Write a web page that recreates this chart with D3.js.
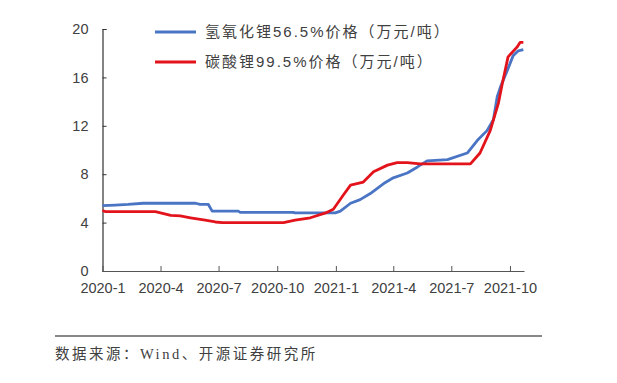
<!DOCTYPE html>
<html>
<head>
<meta charset="utf-8">
<script src="https://cdn.jsdelivr.net/npm/d3@7"></script>
<style>
  body { margin: 0; background: #fff; }
  .axis text { font-family: "Liberation Sans", Arial, sans-serif; font-size: 14.5px; fill: #404040; }
  .cn { font-family: "Liberation Serif", "Noto Sans CJK SC", serif; fill: #404040; }
  .lg { font-family: "Liberation Sans", "Noto Sans CJK SC", sans-serif; fill: #404040; }
</style>
</head>
<body>
<svg id="chart" width="617" height="383"></svg>
<script>
// series: LiOH 56.5% and Li2CO3 99.5% price (10k CNY / t)
var seriesNames = ["氢氧化锂56.5%价格（万元/吨）", "碳酸锂99.5%价格（万元/吨）"];
var seriesColors = ["#4a74c4", "#e3131b"];

var lohDates = ["2020-01-01","2020-01-21","2020-02-10","2020-03-05","2020-05-26","2020-06-02","2020-06-15","2020-06-21",
    "2020-08-01","2020-08-04","2020-10-26","2020-10-29","2020-12-31","2021-01-08","2021-01-24","2021-02-08",
    "2021-02-24","2021-03-19","2021-04-01","2021-04-23","2021-05-09","2021-05-24","2021-06-25","2021-07-26",
    "2021-08-11","2021-08-26","2021-09-05","2021-09-11","2021-09-16","2021-09-27","2021-10-06","2021-10-14","2021-10-22"];
var lohValues = [5.4,5.45,5.5,5.6,5.6,5.5,5.5,4.95,
    4.95,4.85,4.85,4.8,4.8,4.95,5.6,5.9,
    6.4,7.3,7.7,8.1,8.6,9.1,9.2,9.75,
    10.8,11.6,12.5,14.4,15.2,16.6,17.8,18.2,18.3];

var lcDates = ["2020-01-01","2020-01-06","2020-03-24","2020-04-17","2020-05-02","2020-05-18","2020-06-10","2020-06-26",
    "2020-07-07","2020-10-11","2020-10-29","2020-11-22","2020-12-16","2020-12-28","2021-01-13","2021-01-24",
    "2021-02-13","2021-03-01","2021-03-23","2021-04-07","2021-04-23","2021-05-13","2021-07-31","2021-08-15",
    "2021-08-31","2021-09-13","2021-09-19","2021-09-28","2021-10-12","2021-10-17","2021-10-22"];
var lcValues = [5.0,4.9,4.9,4.6,4.55,4.4,4.2,4.05,
    4.0,4.0,4.2,4.4,4.8,5.1,6.3,7.1,
    7.35,8.2,8.75,8.95,8.95,8.85,8.85,9.75,
    11.6,13.9,15.5,17.7,18.5,18.9,18.9];

var xTickDates = ["2020-01-01","2020-04-01","2020-07-01","2020-10-01","2021-01-01","2021-04-01","2021-07-01","2021-10-01"];
var xTickLabels = ["2020-1","2020-4","2020-7","2020-10","2021-1","2021-4","2021-7","2021-10"];
var yTicks = [0, 4, 8, 12, 16, 20];
var sourceText = "数据来源：Wind、开源证券研究所";

var parse = d3.timeParse("%Y-%m-%d");
var svg = d3.select("#chart");

var x = d3.scaleTime()
    .domain([parse("2020-01-01"), parse("2021-10-23")])
    .range([102.5, 524]);
var y = d3.scaleLinear()
    .domain([0, 20])
    .range([271, 29]);

var g = svg.append("g");

// y axis, ticks inside
var yAxis = g.append("g")
    .attr("class", "axis")
    .attr("transform", "translate(" + x.range()[0] + ",0)")
    .call(d3.axisLeft(y).tickValues(yTicks).tickSizeInner(-4).tickSizeOuter(-4).tickPadding(14));
yAxis.select(".domain").attr("stroke", "#333").attr("stroke-width", 1.2);
yAxis.selectAll(".tick line").attr("stroke", "#333");

// x axis
var xAxis = g.append("g")
    .attr("class", "axis")
    .attr("transform", "translate(0," + y(0) + ")")
    .call(d3.axisBottom(x)
        .tickValues(xTickDates.map(parse))
        .tickFormat(function(d, i) { return xTickLabels[i]; })
        .tickSizeInner(-5).tickSizeOuter(0).tickPadding(12));
xAxis.select(".domain").attr("stroke", "#555").attr("stroke-width", 1.2);
xAxis.selectAll(".tick line").attr("stroke", "#555");

var line = d3.line()
    .x(function(d) { return x(d.date); })
    .y(function(d) { return y(d.value); });

function toPts(dates, values) {
    return dates.map(function(d, i) { return {date: parse(d), value: values[i]}; });
}
var series = [toPts(lohDates, lohValues), toPts(lcDates, lcValues)];

// red drawn on top like the source
series.forEach(function(s, i) {
    g.append("path")
        .datum(s)
        .attr("fill", "none")
        .attr("stroke", seriesColors[i])
        .attr("stroke-width", 2.8)
        .attr("stroke-linejoin", "round")
        .attr("d", line);
});

// legend
var legend = g.append("g");
seriesNames.forEach(function(name, i) {
    var ly = 32 + i * 30;
    legend.append("line")
        .attr("x1", 155).attr("x2", 196)
        .attr("y1", ly).attr("y2", ly)
        .attr("stroke", seriesColors[i])
        .attr("stroke-width", 3);
    legend.append("text")
        .attr("class", "lg")
        .attr("x", 205).attr("y", ly + 5)
        .attr("font-size", 15)
        .attr("letter-spacing", 2)
        .text(name);
});

// source note
svg.append("line")
    .attr("x1", 55).attr("x2", 542)
    .attr("y1", 336).attr("y2", 336)
    .attr("stroke", "#888").attr("stroke-width", 2);
svg.append("text")
    .attr("class", "cn")
    .attr("x", 55).attr("y", 359)
    .attr("font-size", 14.5)
    .attr("letter-spacing", 2.5)
    .text(sourceText);
</script>
</body>
</html>
